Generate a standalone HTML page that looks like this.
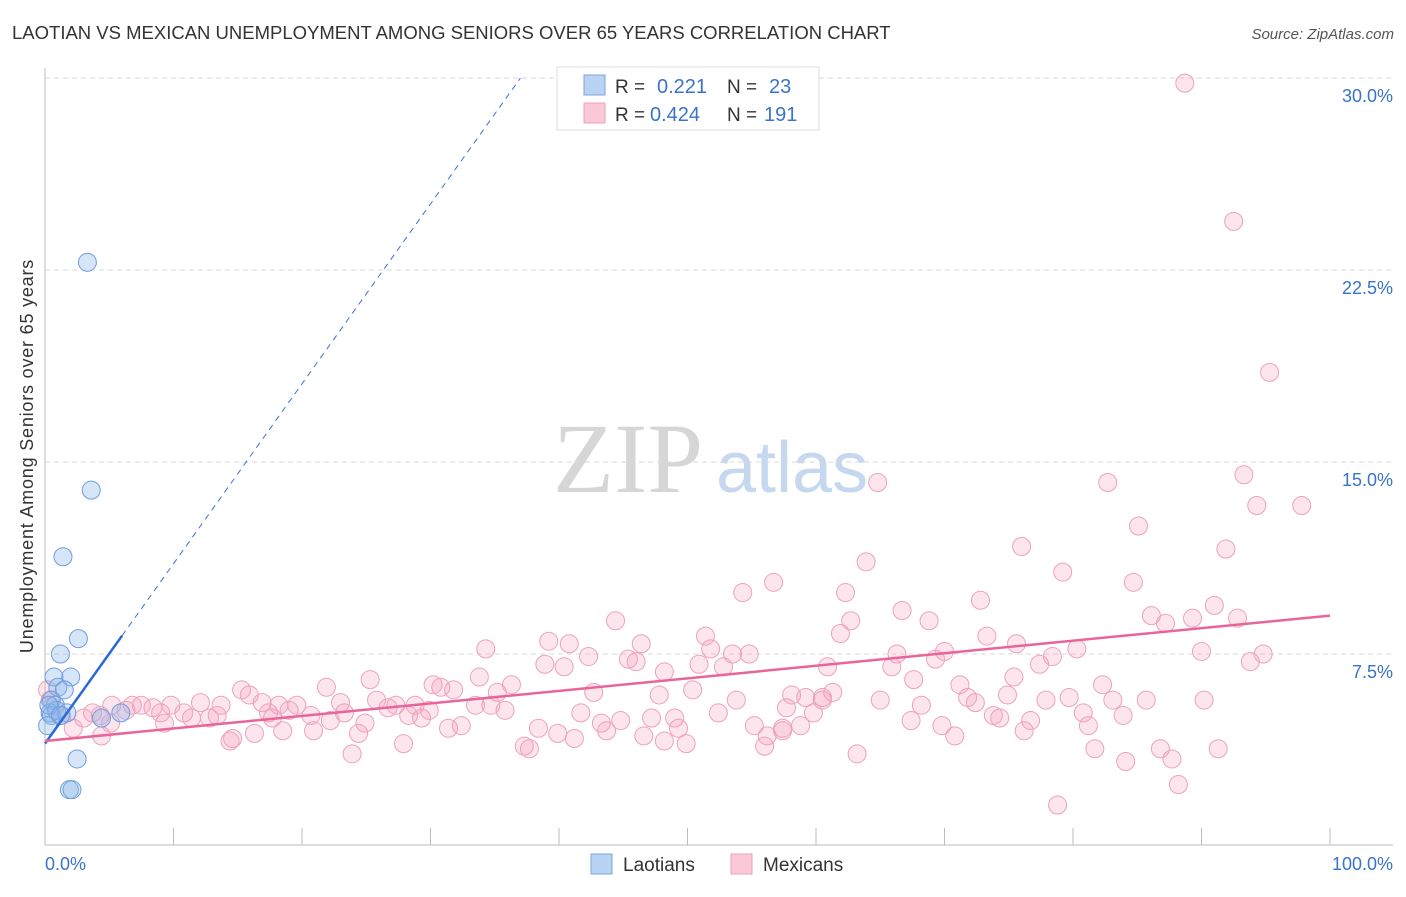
<!DOCTYPE html>
<html><head><meta charset="utf-8">
<style>
body{margin:0;background:#fff;font-family:"Liberation Sans",sans-serif;}
svg text{font-family:"Liberation Sans",sans-serif;}
svg text.serif{font-family:"Liberation Serif",serif;}
</style></head>
<body>
<svg id="chart" width="1406" height="892" viewBox="0 0 1406 892" xmlns="http://www.w3.org/2000/svg">
<text x="12" y="39" font-size="18.5" fill="#333">LAOTIAN VS MEXICAN UNEMPLOYMENT AMONG SENIORS OVER 65 YEARS CORRELATION CHART</text>
<text x="1394" y="39" font-size="15" fill="#555" font-style="italic" text-anchor="end">Source: ZipAtlas.com</text>
<g>
<text class="serif" x="553" y="492" font-size="100" fill="#d6d6d6">ZIP</text>
<text x="716" y="492" font-size="72" fill="#c5d8f0">atlas</text>
</g>
<g id="grid"></g>
<g id="axes"></g>
<g id="pts"></g>
<g id="lines"></g>
<text transform="translate(33,456) rotate(-90)" font-size="18" letter-spacing="0.8" fill="#333" text-anchor="middle">Unemployment Among Seniors over 65 years</text>
<text x="45" y="870" font-size="18" fill="#3a73c9">0.0%</text>
<text x="1393" y="870" font-size="18" fill="#3a73c9" text-anchor="end">100.0%</text>
<g>
<rect x="557" y="67" width="262" height="63" fill="#fff" stroke="#ddd"/>
<rect x="584" y="75" width="21" height="20" fill="#b9d3f4" stroke="#7ea6dc"/>
<rect x="584" y="103" width="21" height="20" fill="#fbc8d7" stroke="#eda2ba"/>
<text x="615" y="93" font-size="19" fill="#333">R = </text><text x="657" y="93" font-size="20" fill="#3a73c9">0.221</text>
<text x="727" y="93" font-size="19" fill="#333">N = </text><text x="769" y="93" font-size="20" fill="#3a73c9">23</text>
<text x="615" y="121" font-size="19" fill="#333">R = </text><text x="650" y="121" font-size="20" fill="#3a73c9">0.424</text>
<text x="727" y="121" font-size="19" fill="#333">N = </text><text x="764" y="121" font-size="20" fill="#3a73c9">191</text>
</g>
<g>
<rect x="591" y="854" width="21" height="20" fill="#b9d3f4" stroke="#7ea6dc"/>
<text x="623" y="871" font-size="19" fill="#333">Laotians</text>
<rect x="731" y="854" width="21" height="20" fill="#fbc8d7" stroke="#eda2ba"/>
<text x="763" y="871" font-size="19" fill="#333">Mexicans</text>
</g>
</svg>
<script>
const yTicks=[7.5,15,22.5,30];
const yTickLabels=["7.5%","15.0%","22.5%","30.0%"];
const xTicks=[0,10,20,30,40,50,60,70,80,90,100];
const laoX=[3.3,3.6,1.4,2.6,1.2,0.7,2.0,1.0,1.5,0.5,0.8,0.4,0.5,0.9,1.7,4.4,5.9,0.2,2.5,1.9,2.1,0.3,1.2];
const laoY=[22.8,13.9,11.3,8.1,7.5,6.6,6.6,6.2,6.1,5.7,5.5,5.2,5.1,5.3,5.2,5.0,5.2,4.7,3.4,2.2,2.2,5.5,5.1];
const mexX=[88.7,92.5,95.3,64.8,82.7,93.3,94.3,97.8,85.1,76.0,91.9,63.9,79.2,56.7,84.7,54.3,62.3,72.8,86.1,91.0,66.7,87.2,89.3,92.8,44.4,62.7,68.8,61.9,51.4,73.3,39.2,40.8,46.4,75.6,34.3,42.3,78.4,80.3,90.0,94.8,66.3,70.0,53.5,54.8,45.4,46.0,69.3,51.8,50.9,52.8,77.4,93.8,38.9,40.4,48.2,60.9,65.9,25.3,33.8,82.3,71.2,75.4,67.6,15.3,15.9,21.9,30.2,30.8,31.8,36.3,35.2,42.7,47.8,50.4,58.1,59.2,60.5,61.3,71.8,74.9,79.7,83.1,85.7,90.2,12.1,16.9,19.6,18.2,23.0,25.8,27.3,28.8,33.5,34.7,35.8,53.8,60.5,65.0,68.2,72.4,77.9,5.2,6.8,7.5,8.4,9.8,10.8,13.7,17.4,19.0,20.7,22.2,23.3,26.7,28.3,29.3,29.9,41.7,49.0,52.4,57.7,59.8,80.8,83.9,73.8,74.3,76.7,3.7,4.3,6.3,9.0,11.4,12.8,13.4,17.7,24.9,31.4,32.4,38.4,43.3,44.8,47.2,49.3,55.2,57.4,58.8,67.4,69.8,81.2,5.1,9.3,18.5,20.9,24.4,39.9,43.7,46.6,49.9,56.2,56.0,57.4,70.8,76.2,4.4,14.6,14.4,16.3,27.9,37.3,37.7,23.9,63.2,81.7,86.8,91.3,84.1,87.7,88.2,78.8,41.2,48.2,2.2,3.0,1.3,0.4,0.2];
const mexY=[29.8,24.4,18.5,14.2,14.2,14.5,13.3,13.3,12.5,11.7,11.6,11.1,10.7,10.3,10.3,9.9,9.9,9.6,9.0,9.4,9.2,8.7,8.9,8.9,8.8,8.8,8.8,8.3,8.2,8.2,8.0,7.9,7.9,7.9,7.7,7.4,7.4,7.7,7.6,7.5,7.5,7.6,7.5,7.5,7.3,7.2,7.3,7.7,7.1,7.0,7.1,7.2,7.1,7.0,6.8,7.0,7.0,6.5,6.6,6.3,6.3,6.6,6.5,6.1,5.9,6.2,6.3,6.2,6.1,6.3,6.0,6.0,5.9,6.1,5.9,5.8,5.8,6.0,5.8,5.9,5.8,5.7,5.7,5.7,5.6,5.6,5.5,5.5,5.6,5.7,5.5,5.5,5.5,5.5,5.3,5.7,5.7,5.7,5.5,5.6,5.7,5.5,5.5,5.5,5.4,5.5,5.2,5.5,5.2,5.3,5.1,4.9,5.2,5.4,5.1,5.0,5.3,5.2,5.0,5.2,5.4,5.2,5.2,5.1,5.1,5.0,4.9,5.2,5.1,5.3,5.2,5.0,5.0,5.1,5.0,4.8,4.6,4.7,4.6,4.8,4.9,5.0,4.6,4.7,4.6,4.7,4.9,4.7,4.7,4.8,4.8,4.5,4.5,4.4,4.4,4.5,4.3,4.0,4.3,3.9,4.5,4.3,4.5,4.3,4.2,4.1,4.4,4.0,3.9,3.8,3.6,3.6,3.8,3.8,3.8,3.3,3.4,2.4,1.6,4.2,4.1,4.6,5.0,5.1,5.7,6.1];
const laoTrend=[0,4.0,37,30];
const laoSolidEnd=6;
const mexTrend=[0,4.1,100,9.0];
const NS="http://www.w3.org/2000/svg";
const X0=45,X1=1330,Y0=846,PXY=25.6;
function sx(v){return X0+v*(X1-X0)/100;}
function sy(v){return Y0-v*PXY;}
function mk(tag,attrs,parent){const e=document.createElementNS(NS,tag);for(const k in attrs)e.setAttribute(k,attrs[k]);parent.appendChild(e);return e;}
const grid=document.getElementById('grid'),axes=document.getElementById('axes'),pts=document.getElementById('pts'),lines=document.getElementById('lines');
yTicks.forEach((t,i)=>{
 const l=mk('line',{x1:45,x2:1393,y1:sy(t),y2:sy(t),stroke:'#d8d8d8','stroke-dasharray':'5,4'},grid);
 
 
 const tx=mk('text',{x:1393,y:sy(t)+24,'font-size':18,fill:'#3a73c9','text-anchor':'end'},grid);
 tx.textContent=yTickLabels[i];
 
 
});
const ya=mk('line',{x1:45,x2:45,y1:68,y2:845,stroke:'#bbb'},axes);


const xa=mk('line',{x1:45,x2:1393,y1:845,y2:845,stroke:'#bbb'},axes);


xTicks.forEach(t=>{
 const l=mk('line',{x1:sx(t),x2:sx(t),y1:828,y2:845,stroke:'#bbb'},axes);
 
 
});
mexX.forEach((v,i)=>{
 const c=mk('circle',{cx:sx(v),cy:sy(mexY[i]),r:9,fill:'rgba(244,160,190,0.28)',stroke:'#eda2ba','stroke-width':1},pts);
 
 
});
laoX.forEach((v,i)=>{
 const c=mk('circle',{cx:sx(v),cy:sy(laoY[i]),r:9,fill:'rgba(140,180,235,0.35)',stroke:'#6f9edb','stroke-width':1},pts);
 
 
});
const slope=(laoTrend[3]-laoTrend[1])/(laoTrend[2]-laoTrend[0]);
const ld=mk('line',{x1:sx(laoSolidEnd),y1:sy(laoTrend[1]+slope*laoSolidEnd),x2:sx(laoTrend[2]),y2:sy(laoTrend[3]),stroke:'#3a73c9','stroke-width':1,'stroke-dasharray':'6,5'},lines);


const ls=mk('line',{x1:sx(laoTrend[0]),y1:sy(laoTrend[1]),x2:sx(laoSolidEnd),y2:sy(laoTrend[1]+slope*laoSolidEnd),stroke:'#2a6ad4','stroke-width':2.5},lines);


const lm=mk('line',{x1:sx(mexTrend[0]),y1:sy(mexTrend[1]),x2:sx(mexTrend[2]),y2:sy(mexTrend[3]),stroke:'#e8659a','stroke-width':2.5},lines);


</script>
</body></html>
